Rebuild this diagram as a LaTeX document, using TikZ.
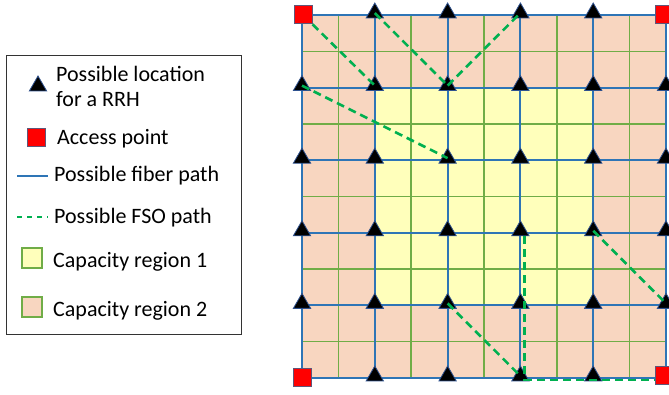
\documentclass[tikz,border=0pt]{standalone}
\usepackage{fontspec}
\setmainfont{Carlito}
\usetikzlibrary{shapes.geometric}

\definecolor{regionone}{RGB}{255,255,187}
\definecolor{regiontwo}{RGB}{248,214,192}
\definecolor{cellgreen}{RGB}{112,173,71}
\definecolor{fiberblue}{RGB}{46,117,182}
\definecolor{fsogreen}{RGB}{0,176,80}
\definecolor{apborder}{RGB}{96,86,120}
\definecolor{rrhborder}{RGB}{47,82,143}

\tikzset{
	rrh/.style={regular polygon, regular polygon sides=3, fill=black, draw=rrhborder, line width=0.8pt, minimum size=20pt, inner sep=0pt, yshift=2pt},
	accesspoint/.style={rectangle, fill=red, draw=apborder, line width=1pt, minimum size=18pt, inner sep=0pt},
	fiber/.style={draw=fiberblue, line width=2pt},
	fso/.style={draw=fsogreen, line width=2.6pt, dash pattern=on 8pt off 5pt},
	fsokey/.style={draw=fsogreen, line width=1.5pt, dash pattern=on 5pt off 5pt},
	regionkey/.style={rectangle, draw=cellgreen, line width=2pt, minimum size=20pt, inner sep=0pt},
	legendtext/.style={anchor=base west, inner sep=0pt, font=\fontsize{22}{25}\selectfont}
}

\begin{document}
\begin{tikzpicture}[x=1pt, y=1pt]
			%%%%% START %%%%%
			\useasboundingbox (0, 0) rectangle (669, 395);
			
			%%%%% LEGEND %%%%%
			\draw[line width=1pt, color=black!80] (6, 60) rectangle (241, 339);
			
			\node[rrh] (key-rrh) at (38, 307) {};
			\node[legendtext, align=left] (txt-rrh) at (56, 288) {Possible location\\for a RRH};
			
			\node[accesspoint] (key-ap) at (36, 257) {};
			\node[legendtext] (txt-ap) at (57, 250) {Access point};
			
			\draw[fiber] (17, 219) -- (48, 219);
			\node[legendtext] (txt-fiber) at (54, 213) {Possible fiber path};
			
			\draw[fsokey] (17, 178) -- (48, 178);
			\node[legendtext] (txt-fso) at (54, 171) {Possible FSO path};
			
			\node[regionkey, fill=regionone] (key-one) at (32, 137) {};
			\node[legendtext] (txt-one) at (53, 127) {Capacity region 1};
			
			\node[regionkey, fill=regiontwo] (key-two) at (32, 88) {};
			\node[legendtext] (txt-two) at (53, 78) {Capacity region 2};
			
			%%%%% AREA %%%%%
			\begin{scope}[shift={(302, 17)}, x=72.8pt, y=72.6pt]
			
			\fill[regiontwo] (0, 0) rectangle (5, 5);
			\fill[regionone] (1, 1) rectangle (4, 4);
			\begin{scope}[x=36.4pt, y=36.3pt]
				\draw[line width=1.5pt, color=cellgreen] (0, 0) grid[step=1] (10, 10);
			\end{scope}
			\draw[fiber] (0, 0) grid[step=1] (5, 5);
			
			% possible RRH locations
			\node[rrh] (t-1-5) at (1, 5) {}; \node[rrh] (t-2-5) at (2, 5) {}; \node[rrh] (t-3-5) at (3, 5) {}; \node[rrh] (t-4-5) at (4, 5) {};
			\node[rrh] (t-0-4) at (0, 4) {}; \node[rrh] (t-1-4) at (1, 4) {}; \node[rrh] (t-2-4) at (2, 4) {}; \node[rrh] (t-3-4) at (3, 4) {}; \node[rrh] (t-4-4) at (4, 4) {}; \node[rrh] (t-5-4) at (5, 4) {};
			\node[rrh] (t-0-3) at (0, 3) {}; \node[rrh] (t-1-3) at (1, 3) {}; \node[rrh] (t-2-3) at (2, 3) {}; \node[rrh] (t-3-3) at (3, 3) {}; \node[rrh] (t-4-3) at (4, 3) {}; \node[rrh] (t-5-3) at (5, 3) {};
			\node[rrh] (t-0-2) at (0, 2) {}; \node[rrh] (t-1-2) at (1, 2) {}; \node[rrh] (t-2-2) at (2, 2) {}; \node[rrh] (t-3-2) at (3, 2) {}; \node[rrh] (t-4-2) at (4, 2) {}; \node[rrh] (t-5-2) at (5, 2) {};
			\node[rrh] (t-0-1) at (0, 1) {}; \node[rrh] (t-1-1) at (1, 1) {}; \node[rrh] (t-2-1) at (2, 1) {}; \node[rrh] (t-3-1) at (3, 1) {}; \node[rrh] (t-4-1) at (4, 1) {}; \node[rrh] (t-5-1) at (5, 1) {};
			\node[rrh] (t-1-0) at (1, 0) {}; \node[rrh] (t-2-0) at (2, 0) {}; \node[rrh] (t-3-0) at (3, 0) {}; \node[rrh] (t-4-0) at (4, 0) {};
			
			% access points
			\node[accesspoint] (ap-tl) at ([xshift=1pt]0, 5) {};
			\node[accesspoint] (ap-tr) at ([xshift=-2pt]5, 5) {};
			\node[accesspoint] (ap-bl) at (0, 0) {};
			\node[accesspoint] (ap-br) at ([xshift=-2pt, yshift=2pt]5, 0) {};
			
			% FSO paths
			\draw[fso] (ap-tl) -- (t-1-4.center);
			\draw[fso] (t-1-5.center) -- (t-2-4.center);
			\draw[fso] (t-2-4.center) -- (t-3-5.center);
			\draw[fso] (t-0-4.center) -- (t-2-3.center);
			\draw[fso] (t-2-1.center) -- (t-3-0.center);
			\draw[fso] (t-4-2.center) -- (t-5-1.center);
			\coordinate (fso-turn) at ([xshift=4pt, yshift=-4pt]t-3-0.center);
			\draw[fso] ([xshift=4pt]t-3-2.south) -- (fso-turn) -- (fso-turn -| ap-br.west);
			
			\end{scope}
			%%%%% END %%%%%
		\end{tikzpicture}
\end{document}
